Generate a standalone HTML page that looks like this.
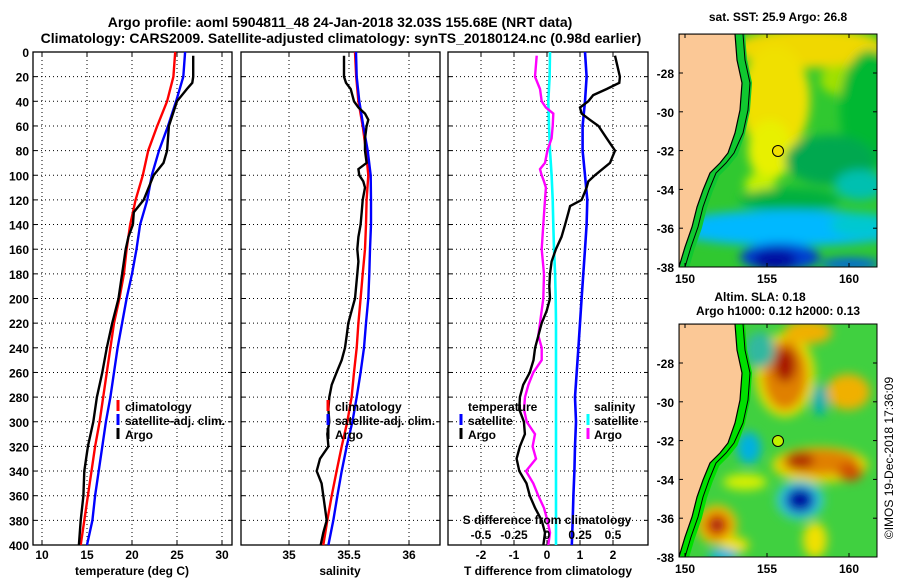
<!DOCTYPE html>
<html><head><meta charset="utf-8"><style>
html,body{margin:0;padding:0;background:#fff;width:900px;height:580px;overflow:hidden}
svg{display:block;font-family:"Liberation Sans",Arial,sans-serif;font-weight:bold}
</style></head><body>
<svg id="fig" width="900" height="580" viewBox="0 0 900 580">
<defs>
<filter id="blur4" x="-50%" y="-50%" width="200%" height="200%"><feGaussianBlur stdDeviation="5"/></filter>
<clipPath id="clipTop"><rect x="679" y="34" width="198" height="233"/></clipPath>
<clipPath id="clipBot"><rect x="679" y="324" width="198" height="233"/></clipPath>
</defs>
<text x="340" y="27" font-size="14" text-anchor="middle">Argo profile: aoml 5904811_48 24-Jan-2018 32.03S 155.68E (NRT data)</text>
<text x="341" y="43" font-size="14" text-anchor="middle">Climatology: CARS2009. Satellite-adjusted climatology: synTS_20180124.nc (0.98d earlier)</text>
<g id="panels"></g>
<g id="maps"></g>
</svg>
<script>
// ---------- data ----------
const depths20 = [0,20,40,60,80,100,120,140,160,180,200,220,240,260,280,300,320,340,360,380,400];
const tempClim = [24.8,24.6,23.9,22.8,21.8,21.2,20.4,19.8,19.4,19.1,18.6,18.0,17.6,17.2,16.8,16.4,15.9,15.5,15.1,14.7,14.3];
const tempSat  = [25.9,25.7,24.9,24.0,23.0,22.2,21.7,20.9,20.5,20.0,19.4,18.9,18.4,18.0,17.6,17.1,16.7,16.3,15.9,15.6,15.0];
const tempArgoDepth = [3,20,25,30,40,60,80,90,100,120,130,140,150,160,180,200,220,240,260,280,300,320,340,360,380,400];
const tempArgo = [26.8,26.8,26.7,26.1,25.0,24.1,23.9,23.5,22.4,21.3,20.2,20.1,19.6,19.3,18.9,18.5,17.8,17.2,16.7,16.1,15.7,15.1,14.7,14.6,14.3,14.1];
const salClim = [35.55,35.56,35.578,35.614,35.642,35.661,35.647,35.642,35.633,35.614,35.597,35.578,35.564,35.542,35.522,35.486,35.439,35.397,35.356,35.319,35.286];
const salSat  = [35.558,35.564,35.586,35.619,35.656,35.681,35.683,35.683,35.675,35.669,35.661,35.642,35.625,35.597,35.564,35.528,35.481,35.439,35.403,35.369,35.328];
const salArgoDepth = [3,20,25,30,40,45,50,55,60,70,80,90,95,100,105,110,120,130,140,150,160,170,180,200,210,220,230,240,250,260,270,280,290,300,310,320,330,340,350,360,380,390,400];
const salArgo = [35.458,35.458,35.475,35.514,35.542,35.578,35.633,35.661,35.647,35.633,35.633,35.647,35.578,35.586,35.619,35.633,35.614,35.606,35.597,35.578,35.569,35.578,35.569,35.55,35.522,35.494,35.481,35.467,35.439,35.397,35.356,35.336,35.328,35.336,35.319,35.328,35.258,35.231,35.272,35.286,35.314,35.286,35.264];
const tDiffSat = [1.15,1.2,1.15,1.08,1.08,1.15,1.22,1.2,1.15,1.1,1.05,1.0,0.95,0.9,0.85,0.88,0.85,0.83,0.8,0.78,0.75];
const sDiffSat = [0.023,0.02,0.01,0.015,0.023,0.035,0.043,0.048,0.053,0.061,0.066,0.068,0.068,0.068,0.068,0.068,0.068,0.068,0.068,0.068,0.068];
const tDiffArgoDepth = [3,20,25,30,35,40,45,50,55,60,70,80,90,100,105,110,120,125,130,140,150,160,170,180,190,200,210,220,230,240,250,260,270,280,290,300,310,320,330,340,350,360,370,380,390,400];
const tDiffArgo = [2.06,2.21,2.19,1.81,1.40,1.25,1.0,1.05,1.30,1.56,1.81,2.06,1.91,1.45,1.25,1.20,1.05,0.70,0.65,0.55,0.44,0.27,0.14,0.09,0.07,0.09,-0.01,-0.16,-0.26,-0.36,-0.41,-0.52,-0.72,-0.82,-0.84,-0.70,-0.67,-0.82,-0.92,-0.84,-0.62,-0.52,-0.36,-0.16,-0.06,-0.11];
const sDiffArgoDepth = [3,20,30,40,45,50,60,70,80,90,95,100,105,110,120,140,160,180,200,220,230,240,250,260,270,280,290,300,310,320,330,340,350,360,370,380,390,400];
const sDiffArgo = [-0.078,-0.091,-0.053,-0.040,-0.008,0.048,0.043,0.035,0.003,-0.015,-0.053,-0.040,-0.023,-0.008,-0.015,-0.028,-0.040,-0.023,-0.028,-0.053,-0.066,-0.040,-0.040,-0.104,-0.141,-0.167,-0.174,-0.154,-0.091,-0.109,-0.083,-0.159,-0.104,-0.066,-0.023,0.003,0.023,0.010];
const depthTicks = [0,20,40,60,80,100,120,140,160,180,200,220,240,260,280,300,320,340,360,380,400];
const tempTicks = [10,15,20,25,30];
const salTicks = [35,35.5,36];
const tDiffTicks = [-2,-1,0,1,2];
const sDiffTicks = [-0.5,-0.25,0,0.25,0.5];
const latTicks = [-28,-30,-32,-34,-36,-38];
const lonTicks = [150,155,160];

// ---------- scales ----------
const Y0=52, Y1=545;
const yD = d => Y0 + d*(Y1-Y0)/400;
const xT = t => 42 + (t-10)*9.0;
const xS = s => 289 + (s-35)*120;
const xTd = v => 547 + v*33;
const xSd = v => 547 + v*132;

const NS="http://www.w3.org/2000/svg";
function mk(tag, parent){ const e=document.createElementNS(NS,tag); parent.appendChild(e); return e; }
const panels=document.getElementById('panels');

function frame(x0,x1,name){
  const g=mk('g',panels);
  
  
  const r=mk('rect',g);
  r.setAttribute('x',x0); r.setAttribute('y',Y0); r.setAttribute('width',x1-x0); r.setAttribute('height',Y1-Y0);
  r.setAttribute('fill','#fff'); r.setAttribute('stroke','#000'); r.setAttribute('stroke-width','1.3');
  
  
  depthTicks.forEach(d=>{
    if(d===0||d===400) return;
    const l=mk('line',g);
    l.setAttribute('x1',x0); l.setAttribute('x2',x1); l.setAttribute('y1',yD(d)); l.setAttribute('y2',yD(d));
    l.setAttribute('stroke','#000'); l.setAttribute('stroke-width','1'); l.setAttribute('stroke-dasharray','1 3');
    
    
    [[x0,x0+4],[x1-4,x1]].forEach(p=>{
      const t=mk('line',g); t.setAttribute('x1',p[0]); t.setAttribute('x2',p[1]); t.setAttribute('y1',yD(d)); t.setAttribute('y2',yD(d)); t.setAttribute('stroke','#000');
      
      
    });
  });
  return g;
}
function vgrid(g,ticks,sc,labels){
  ticks.forEach((v,i)=>{
    const x=sc(v);
    const l=mk('line',g);
    l.setAttribute('x1',x); l.setAttribute('x2',x); l.setAttribute('y1',Y0); l.setAttribute('y2',Y1);
    l.setAttribute('stroke','#000'); l.setAttribute('stroke-dasharray','1 3');
    
    
    [[Y0,Y0+4],[Y1-4,Y1]].forEach(p=>{
      const t=mk('line',g); t.setAttribute('x1',x); t.setAttribute('x2',x); t.setAttribute('y1',p[0]); t.setAttribute('y2',p[1]); t.setAttribute('stroke','#000');
      
      
    });
    if(labels){
      const tx=mk('text',g); tx.setAttribute('x',x); tx.setAttribute('y',559); tx.setAttribute('font-size','12'); tx.setAttribute('text-anchor','middle');
      tx.textContent=labels[i];
      
      
    }
  });
}
function series(g,ds,vs,sc,color,name,w){
  const p=mk('polyline',g);
  p.setAttribute('points', ds.map((d,i)=>sc(vs[i]).toFixed(1)+','+yD(d).toFixed(1)).join(' '));
  p.setAttribute('fill','none'); p.setAttribute('stroke',color); p.setAttribute('stroke-width',w||2.4);
  p.setAttribute('stroke-linejoin','miter');
  
  
}
function txt(g,x,y,s,fs,anchor,name){
  const t=mk('text',g); t.setAttribute('x',x); t.setAttribute('y',y); t.setAttribute('font-size',fs||12);
  if(anchor) t.setAttribute('text-anchor',anchor);
  t.textContent=s;
  
  
  return t;
}
function legBar(g,x,y,color,name){
  const r=mk('rect',g); r.setAttribute('x',x-1.5); r.setAttribute('y',y-11); r.setAttribute('width',3); r.setAttribute('height',11); r.setAttribute('fill',color);
  
  
}

// Panel 1: temperature
const g1=frame(33,232,'temperature-panel');
vgrid(g1,tempTicks,xT,tempTicks.map(String));
depthTicks.forEach(d=>{
  txt(g1,29,yD(d)+5,String(d),12,'end','depth-tick-label');
});
series(g1,depths20,tempClim,xT,'#ff0000','temp-climatology-line');
series(g1,depths20,tempSat,xT,'#0000ff','temp-satellite-line');
series(g1,tempArgoDepth,tempArgo,xT,'#000','temp-argo-line');
txt(g1,132,575,'temperature (deg C)',12,'middle','temperature-axis-title');
legBar(g1,118,411,'#ff0000','legend-climatology-swatch'); txt(g1,125,411,'climatology',12,null,'legend-climatology');
legBar(g1,118,425,'#0000ff','legend-satellite-swatch'); txt(g1,125,425,'satellite-adj. clim.',12,null,'legend-satellite');
legBar(g1,118,439,'#000','legend-argo-swatch'); txt(g1,125,439,'Argo',12,null,'legend-argo');

// Panel 2: salinity
const g2=frame(241,440,'salinity-panel');
vgrid(g2,salTicks,xS,['35','35.5','36']);
series(g2,depths20,salClim,xS,'#ff0000','sal-climatology-line');
series(g2,depths20,salSat,xS,'#0000ff','sal-satellite-line');
series(g2,salArgoDepth,salArgo,xS,'#000','sal-argo-line');
txt(g2,340,575,'salinity',12,'middle','salinity-axis-title');
legBar(g2,328,411,'#ff0000','legend2-climatology-swatch'); txt(g2,335,411,'climatology',12,null,'legend2-climatology');
legBar(g2,328,425,'#0000ff','legend2-satellite-swatch'); txt(g2,335,425,'satellite-adj. clim.',12,null,'legend2-satellite');
legBar(g2,328,439,'#000','legend2-argo-swatch'); txt(g2,335,439,'Argo',12,null,'legend2-argo');

// Panel 3: differences
const g3=frame(448,648,'difference-panel');
vgrid(g3,tDiffTicks,xTd,tDiffTicks.map(String));
series(g3,depths20,sDiffSat,xSd,'#00ffff','sdiff-satellite-line',2.6);
series(g3,depths20,tDiffSat,xTd,'#0000ff','tdiff-satellite-line',2.6);
series(g3,sDiffArgoDepth,sDiffArgo,xSd,'#ff00ff','sdiff-argo-line');
series(g3,tDiffArgoDepth,tDiffArgo,xTd,'#000','tdiff-argo-line');
txt(g3,548,575,'T difference from climatology',12,'middle','tdiff-axis-title');
txt(g3,547,524,'S difference from climatology',12,'middle','sdiff-axis-title');
sDiffTicks.forEach(v=>{ txt(g3,xSd(v),539,String(v),12,'middle','sdiff-tick-label'); });
txt(g3,468,411,'temperature',12,null,'legend3-temperature-heading');
legBar(g3,461,425,'#0000ff','legend3-tsat-swatch'); txt(g3,468,425,'satellite',12,null,'legend3-tsat');
legBar(g3,461,439,'#000','legend3-targo-swatch'); txt(g3,468,439,'Argo',12,null,'legend3-targo');
txt(g3,594,411,'salinity',12,null,'legend3-salinity-heading');
legBar(g3,588,425,'#00ffff','legend3-ssat-swatch'); txt(g3,594,425,'satellite',12,null,'legend3-ssat');
legBar(g3,588,439,'#ff00ff','legend3-sargo-swatch'); txt(g3,594,439,'Argo',12,null,'legend3-sargo');

// ---------- maps ----------
const maps=document.getElementById('maps');
const lonX = l => 685 + (l-150)*16.4;
const latY = (lat,off) => off + 73 + (-28-lat)*19.4;
const coast = [[735,34],[737,60],[742,83],[740,110],[735,133],[728,153],[720,163],[710,173],[703,190],[697,207],[692,227],[685,247],[682,257],[679,267]];

function mapBase(off,name,blobs,bg,clip,strip){
  const g=mk('g',maps);
  
  
  const inner=mk('g',g); inner.setAttribute('clip-path','url(#'+clip+')');
  const b=mk('rect',inner); b.setAttribute('x',679); b.setAttribute('y',34+off); b.setAttribute('width',198); b.setAttribute('height',233); b.setAttribute('fill',bg);
  const bl=mk('g',inner); bl.setAttribute('filter','url(#blur4)');
  blobs.forEach(o=>{
    const e=mk('ellipse',bl); e.setAttribute('cx',o[0]); e.setAttribute('cy',o[1]+off); e.setAttribute('rx',o[2]); e.setAttribute('ry',o[3]); e.setAttribute('fill',o[4]);
  });
  const st=mk('polyline',inner);
  st.setAttribute('points',coast.map(p=>(p[0]+5)+','+(p[1]+off)).join(' '));
  st.setAttribute('fill','none'); st.setAttribute('stroke',strip); st.setAttribute('stroke-width','10');
  const sh=mk('polyline',inner);
  sh.setAttribute('points',coast.map(p=>(p[0]+8 - (p[1]>150?2:0))+','+(p[1]+off)).join(' '));
  sh.setAttribute('fill','none'); sh.setAttribute('stroke','#000'); sh.setAttribute('stroke-width','1');
  const land=mk('polygon',inner);
  land.setAttribute('points',coast.map(p=>p[0]+','+(p[1]+off)).join(' ')+' 679,'+(267+off)+' 679,'+(34+off));
  land.setAttribute('fill','#fbc896'); land.setAttribute('stroke','#000'); land.setAttribute('stroke-width','1.2');
  
  
  const fr=mk('rect',g); fr.setAttribute('x',679); fr.setAttribute('y',34+off); fr.setAttribute('width',198); fr.setAttribute('height',233); fr.setAttribute('fill','none'); fr.setAttribute('stroke','#000');
  latTicks.forEach(lat=>{
    const y=latY(lat,off);
    txt(g,674,y+5,String(lat),12,'end','lat-tick-label');
    [[679,683],[873,877]].forEach(p=>{ const t=mk('line',g); t.setAttribute('x1',p[0]); t.setAttribute('x2',p[1]); t.setAttribute('y1',y); t.setAttribute('y2',y); t.setAttribute('stroke','#000'); });
  });
  lonTicks.forEach(lon=>{
    const x=lonX(lon);
    txt(g,x,283+off,String(lon),12,'middle','lon-tick-label');
    [[34+off,38+off],[263+off,267+off]].forEach(p=>{ const t=mk('line',g); t.setAttribute('x1',x); t.setAttribute('x2',x); t.setAttribute('y1',p[0]); t.setAttribute('y2',p[1]); t.setAttribute('stroke','#000'); });
  });
  return g;
}
const sstBlobs=[
 [810,48,75,20,'#f0d800'],[775,100,35,55,'#f0e000'],[770,150,22,30,'#e8f000'],[760,185,15,12,'#c8f000'],[840,80,20,15,'#a0e000'],
 [870,110,30,60,'#00b830'],[830,160,45,25,'#00a850'],[860,185,25,15,'#00c0b0'],[790,200,50,12,'#00b040'],
 [790,228,120,18,'#00b8ff'],[860,225,30,12,'#00c8d0'],[780,257,40,14,'#0040d0'],[775,260,22,10,'#0010a0'],[850,264,30,6,'#0060e0']
];
mapBase(0,'sst-map',sstBlobs,'#30c830','clipTop','#10c830');
txt(maps,778,21,'sat. SST: 25.9 Argo: 26.8',12,'middle','sst-map-title');
const slaBlobs=[
 [785,85,30,42,'#e8e000'],[785,85,22,35,'#e08000'],[785,75,11,17,'#a81800'],[808,42,24,12,'#f0b000'],[848,102,22,18,'#f0b000'],
 [820,175,48,18,'#e8d800'],[820,172,38,13,'#e08000'],[800,170,14,9,'#b03000'],[850,182,13,9,'#d05000'],
 [800,210,24,20,'#30c8d0'],[800,210,15,13,'#0030c0'],[800,210,8,7,'#000090'],
 [717,235,20,20,'#f0c000'],[717,235,13,13,'#e06000'],[717,235,7,7,'#a01010'],
 [749,158,12,16,'#00b0e0'],[820,110,8,16,'#00b0b0'],[735,255,14,8,'#f0e000'],[815,250,12,18,'#f0e000'],[745,192,22,8,'#d8f000'],
 [723,265,15,6,'#00b0f0'],[760,60,15,18,'#30b8a0']
];
mapBase(290,'sla-map',slaBlobs,'#40d040','clipBot','#00e000');
txt(maps,760,301,'Altim. SLA: 0.18',12,'middle','sla-map-title');
txt(maps,778,315,'Argo h1000: 0.12 h2000: 0.13',12,'middle','sla-map-subtitle');
[[151,'#f0e000'],[441,'#c0f000']].forEach((p,i)=>{
  const c=mk('circle',maps); c.setAttribute('cx',778); c.setAttribute('cy',p[0]); c.setAttribute('r',5.5); c.setAttribute('fill',p[1]); c.setAttribute('stroke','#000');
  
  
});
const cr=txt(maps,0,0,'©IMOS 19-Dec-2018 17:36:09',12,'middle','imos-credit');
cr.setAttribute('font-weight','normal');
cr.setAttribute('transform','translate(893,458) rotate(-90)');
</script>
</body></html>
